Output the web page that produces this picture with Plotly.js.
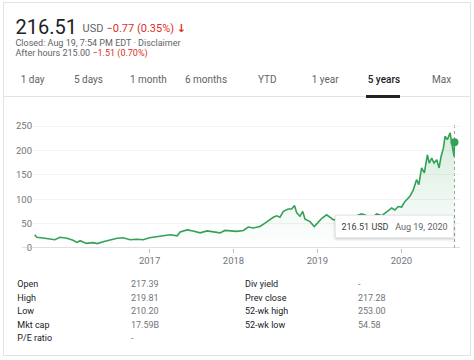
<!DOCTYPE html>
<html><head><meta charset="utf-8">
<script src="https://cdn.plot.ly/plotly-3.0.1.min.js"></script>
<style>
html,body{margin:0;padding:0;background:#fff;width:474px;height:360px;overflow:hidden;font-family:Roboto,Arial,sans-serif;}
#card{position:absolute;left:3px;top:2px;width:466px;height:352px;border:1px solid #e3e3e3;}
.t{position:absolute;white-space:nowrap;line-height:1;}
#chart{position:absolute;left:0;top:110px;width:474px;height:160px;}
#chart .annotation .bg{filter:drop-shadow(0 1px 1.5px rgba(0,0,0,0.22));}
.arrow{font-family:'DejaVu Sans',sans-serif;font-weight:bold;font-size:11px;}
</style></head>
<body>
<div id="card"></div>
<div class="t" style="left:15.5px;top:16.5px;font-size:20px;color:#202124;">216.51</div>
<div class="t" style="left:82.5px;top:23px;font-size:11px;color:#5f6368;">USD</div>
<div class="t" style="left:106.5px;top:23px;font-size:11px;color:#d93025;">−0.77 (0.35%) <span class="arrow">↓</span></div>
<div class="t" style="left:15.5px;top:38.9px;font-size:9px;color:#5f6368;">Closed: Aug 19, 7:54 PM EDT · Disclaimer</div>
<div class="t" style="left:15.5px;top:49.1px;font-size:9px;color:#5f6368;">After hours 215.00 <span style="color:#d93025">−1.51 (0.70%)</span></div>
<div id="tabs"></div>
<div style="position:absolute;left:4px;top:96px;width:466px;height:1px;background:#e3e3e3;"></div>
<div style="position:absolute;left:365.7px;top:95px;width:34.5px;height:2.5px;background:#202124;"></div>
<div id="chart"></div>
<div id="stats"></div>
<script>
// ---- data ----
var dates = ['2015-08-20','2015-08-30','2015-10-03','2015-10-26','2015-11-16','2015-12-08',
'2016-01-08','2016-02-03','2016-02-20','2016-03-05','2016-04-01','2016-05-01','2016-05-18','2016-06-13','2016-07-14','2016-08-13','2016-09-08','2016-10-08','2016-11-07','2016-12-04',
'2017-01-01','2017-02-03','2017-03-01','2017-04-01','2017-05-01','2017-05-14','2017-06-13','2017-07-09','2017-08-09','2017-09-08','2017-10-04','2017-11-03','2017-11-25','2017-12-17',
'2018-01-15','2018-02-13','2018-03-06','2018-03-28','2018-04-26','2018-05-18','2018-06-09','2018-06-23','2018-07-08','2018-07-22','2018-08-06','2018-08-27','2018-09-11','2018-09-23','2018-10-03','2018-10-17','2018-10-29','2018-11-08','2018-11-30','2018-12-18',
'2019-01-01','2019-01-20','2019-02-10','2019-02-25','2019-03-11','2019-03-28','2019-04-16','2019-05-01','2019-05-31','2019-06-21','2019-07-12','2019-08-03','2019-08-17','2019-09-04','2019-09-16','2019-10-07','2019-10-29','2019-11-20','2019-12-04','2019-12-18',
'2020-01-02','2020-01-16','2020-02-07','2020-02-22','2020-03-07','2020-03-17','2020-03-29','2020-04-10','2020-04-23','2020-05-01','2020-05-12','2020-05-22','2020-06-03','2020-06-13','2020-06-22','2020-07-02','2020-07-09','2020-07-19','2020-07-31','2020-08-07','2020-08-14','2020-08-17','2020-08-19'];
var prices = [27,22,20,19,17,22,
20,16,11.5,15,9.5,11,9,13,17,20,21,17,18,17,
21,24,25,27,25,33,37,35,31,35,33,31,36,35,
34,36,43,41,44,51,59,63,66,63,75,80,80,87,72,65,75,59,54,44,
51,61,68,63,58,58,51,45,55,66,70,66,58,65,70,66,75,82,78,85,
84,95,106,119,140,130,164,154,191,174,184,174,181,164,188,205,229,222,236,215,195,188,216.51];
var yTicks = [0,50,100,150,200,250];
var xTickVals = ['2017-01-01','2018-01-01','2019-01-01','2020-01-01'];
var xTickText = ['2017','2018','2019','2020'];
var tabs = ['1 day','5 days','1 month','6 months','YTD','1 year','5 years','Max'];
var activeTab = '5 years';
var statLabelsL = ['Open','High','Low','Mkt cap','P/E ratio'];
var statValuesL = ['217.39','219.81','210.20','17.59B','-'];
var statLabelsR = ['Div yield','Prev close','52-wk high','52-wk low'];
var statValuesR = ['-','217.28','253.00','54.58'];
var tooltipPrice = '216.51 USD';
var tooltipDate = 'Aug 19, 2020';

// ---- header tabs ----
var tabX = [20.7,74,130,185,258,311.7,367.7,432];
var th = '';
tabs.forEach(function(t,i){
  var act = t===activeTab;
  th += '<div class="t" style="left:'+tabX[i]+'px;top:74.8px;font-size:10px;color:'+(act?'#202124':'#5f6368')+';'+(act?'font-weight:500;':'')+'">'+t+'</div>';
});
document.getElementById('tabs').innerHTML = th;

// ---- stats ----
var sh = '';
var rowTop = [280.4,293.8,307.2,320.6,334.0];
statLabelsL.forEach(function(l,i){
  sh += '<div class="t" style="left:17.3px;top:'+rowTop[i]+'px;font-size:9px;color:#202124;">'+l+'</div>';
  sh += '<div class="t" style="left:131px;top:'+rowTop[i]+'px;font-size:9px;color:#70757a;">'+statValuesL[i]+'</div>';
});
statLabelsR.forEach(function(l,i){
  sh += '<div class="t" style="left:245px;top:'+rowTop[i]+'px;font-size:9px;color:#202124;">'+l+'</div>';
  sh += '<div class="t" style="left:358px;top:'+rowTop[i]+'px;font-size:9px;color:#70757a;">'+statValuesR[i]+'</div>';
});
document.getElementById('stats').innerHTML = sh;

// ---- chart ----
var green = '#34a157';
var last = dates.length-1;
var traces = [
  {x:dates, y:prices, type:'scatter', mode:'lines', line:{color:green, width:1.6},
   fill:'tozeroy', fillgradient:{type:'vertical', colorscale:[[0,'rgba(52,161,87,0)'],[1,'rgba(52,161,87,0.2)']]},
   hoverinfo:'skip'},
  {x:[dates[last]], y:[prices[last]], type:'scatter', mode:'markers',
   marker:{color:green, size:8}, hoverinfo:'skip'}
];
var layout = {
  width:474, height:160, margin:{l:33,r:14,t:10,b:22},
  paper_bgcolor:'rgba(0,0,0,0)', plot_bgcolor:'rgba(0,0,0,0)',
  showlegend:false,
  font:{family:'Roboto, Arial, sans-serif', size:9.5, color:'#70757a'},
  xaxis:{type:'date', range:['2015-08-13','2020-09-12'], tickmode:'array', tickvals:xTickVals, ticktext:xTickText,
    ticks:'outside', ticklen:4, tickcolor:'#bdc1c6', showgrid:false, showline:false, zeroline:false, fixedrange:true},
  yaxis:{range:[0,262.3], tickmode:'array', tickvals:yTicks, ticks:'', showgrid:true, gridcolor:'#f1f3f4',
    zeroline:false, showline:false, fixedrange:true},
  shapes:[
    {type:'line', xref:'paper', yref:'y', x0:-0.026, x1:1, y0:0, y1:0, line:{color:'#bdc1c6', width:1}, layer:'above'},
    {type:'line', xref:'x', yref:'y', x0:dates[last], x1:dates[last], y0:0, y1:252, line:{color:'#9aa0a6', width:1, dash:'dot'}, layer:'below'}
  ],
  annotations:[
    {xref:'x', yref:'y', x:dates[last], y:43.6, xanchor:'right', yanchor:'middle', showarrow:false,
     text:'<span style="color:#3c4043">'+tooltipPrice+'</span>   <span style="color:#5f6368">'+tooltipDate+'</span>',
     font:{size:9, color:'#3c4043'}, bgcolor:'#ffffff', bordercolor:'#e8eaed', borderwidth:1, borderpad:5.5}
  ]
};
Plotly.newPlot('chart', traces, layout, {displayModeBar:false, staticPlot:true});
</script>
</body></html>
